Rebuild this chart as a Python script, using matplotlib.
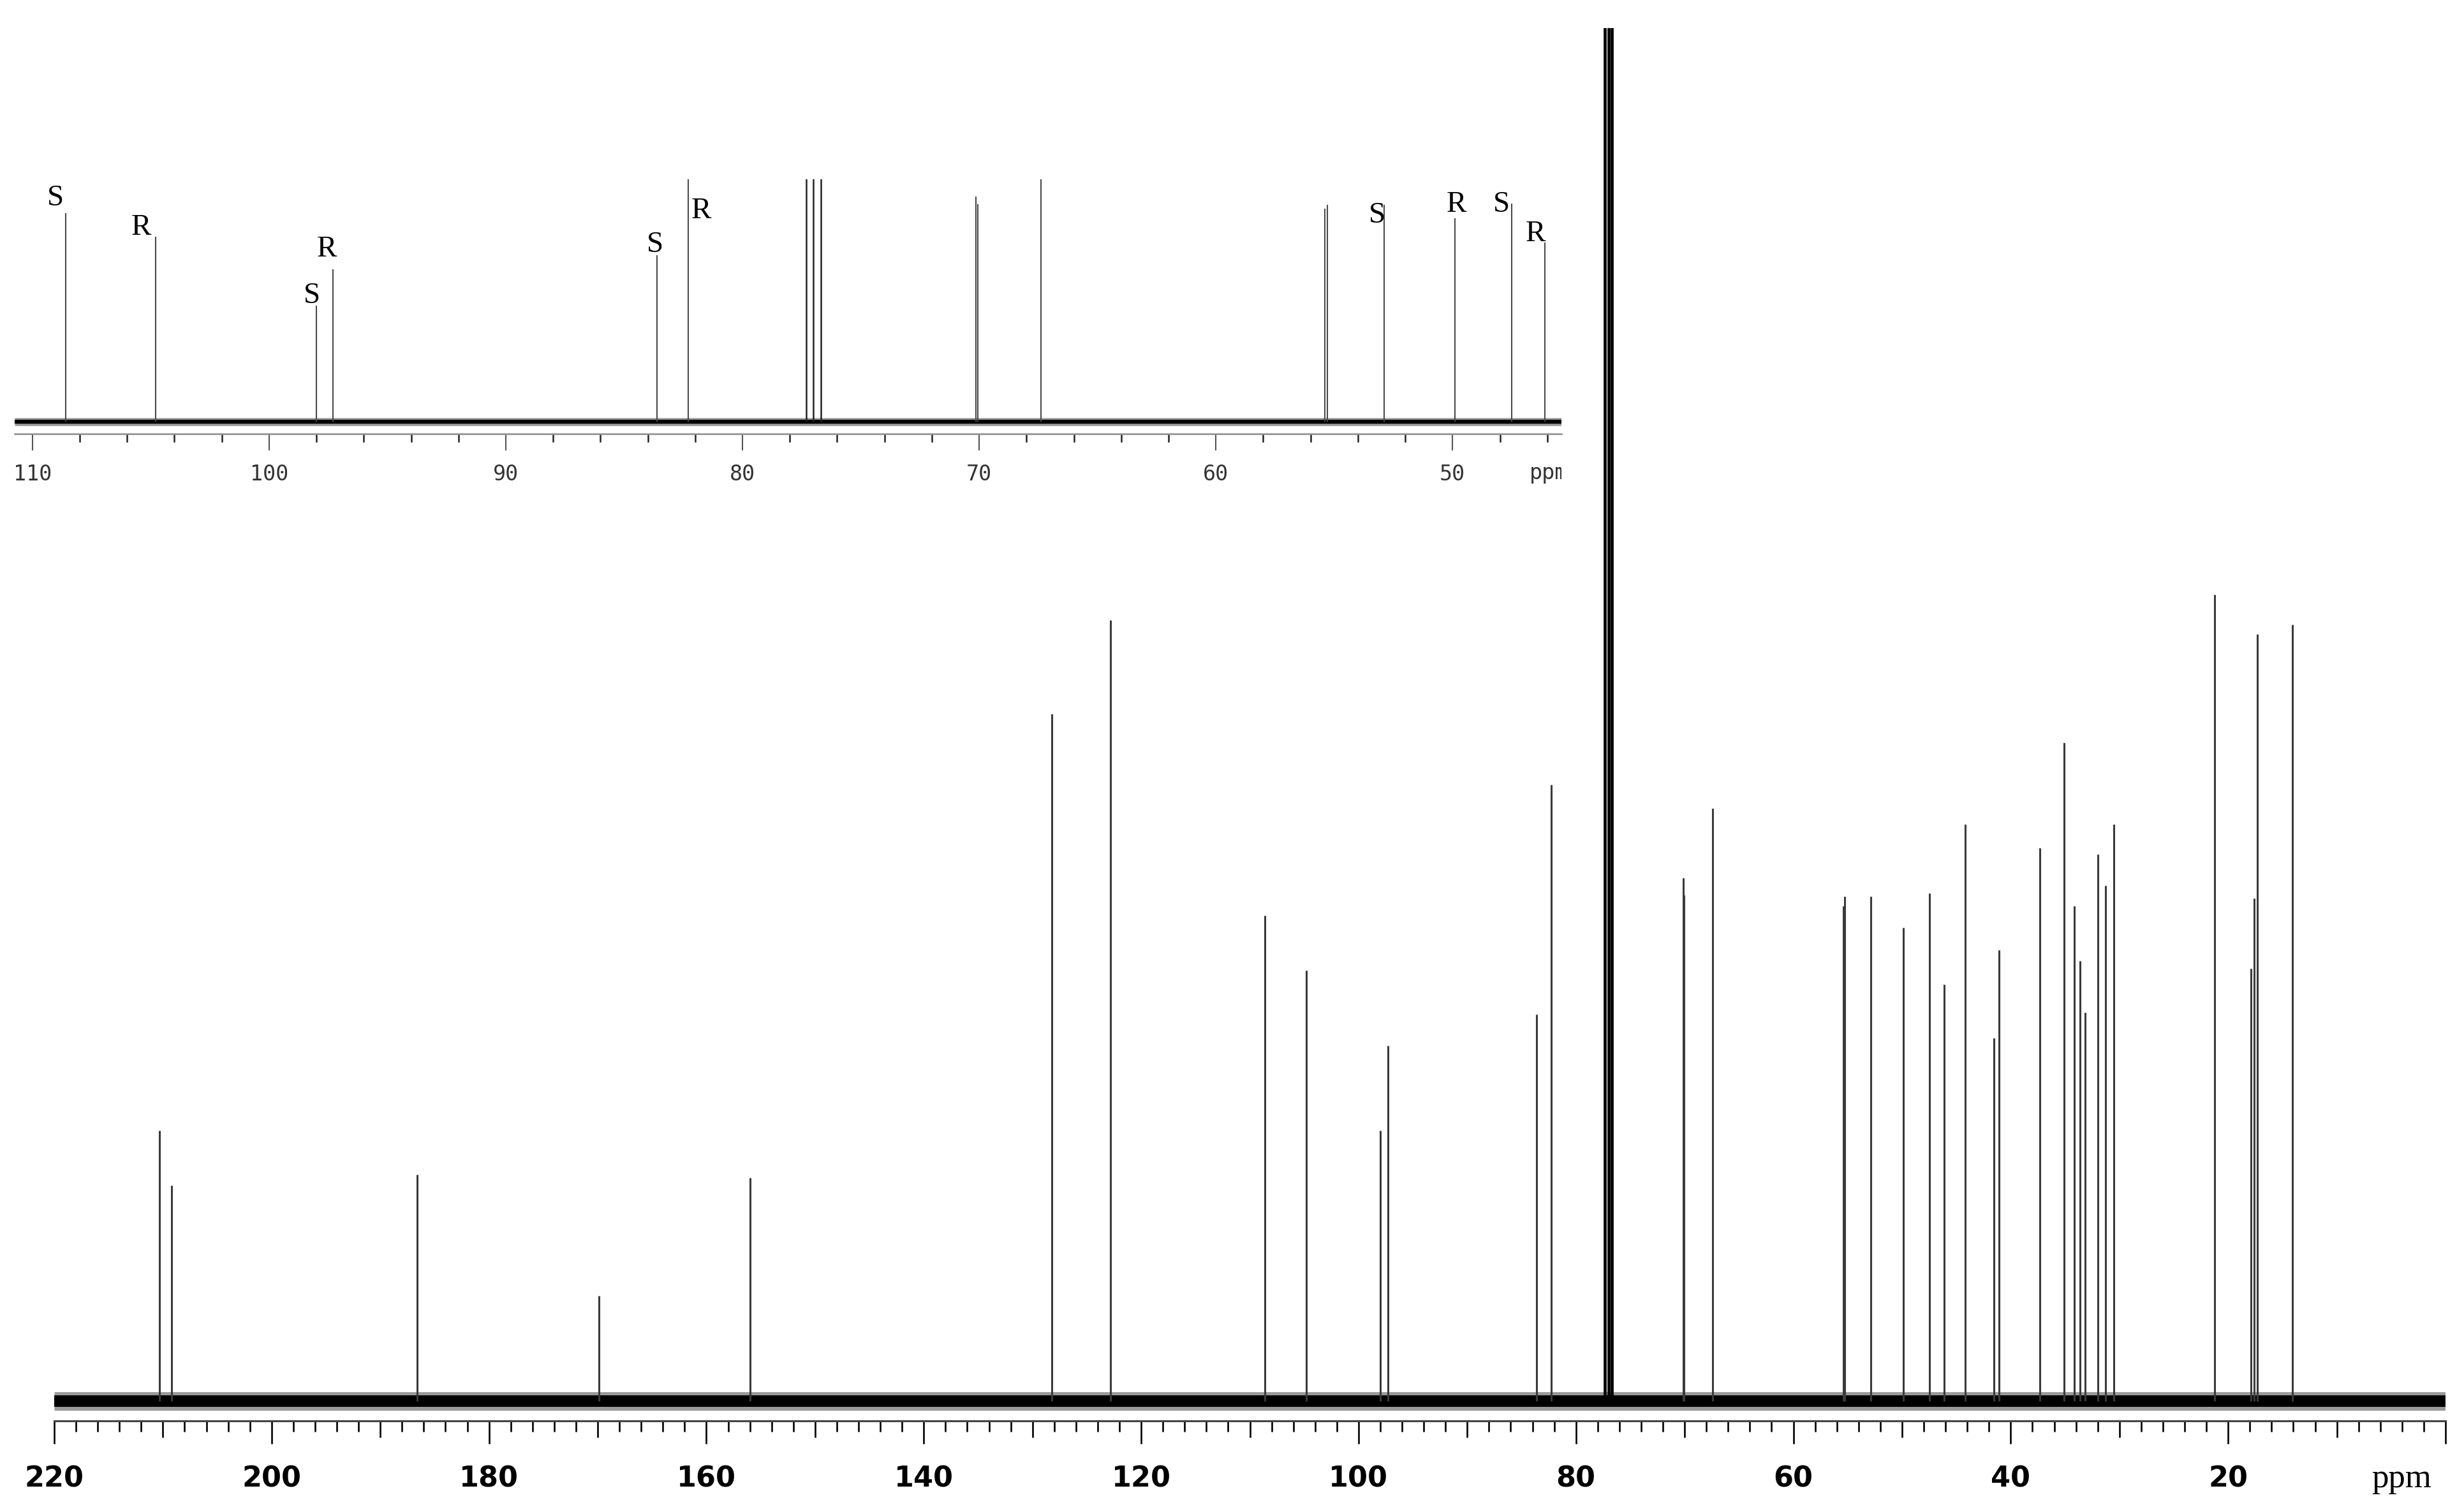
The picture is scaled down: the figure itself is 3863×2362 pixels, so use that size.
import numpy as np
import matplotlib
matplotlib.use("Agg")
import matplotlib.pyplot as plt
from matplotlib.transforms import Bbox, TransformedBbox

# 13C NMR peak list: chemical shift (ppm) and peak height (arbitrary units)
peak_ppm = [210.3, 209.2, 186.6, 169.9, 156.0, 128.2, 122.8, 108.6, 104.8,
            98.0, 97.3, 83.6, 82.3, 70.15, 70.05, 67.4,
            55.4, 55.3, 52.9, 49.9, 47.5, 46.1, 44.2, 41.55, 41.1, 37.3,
            35.1, 34.15, 33.6, 33.15, 32.0, 31.25, 30.5, 21.25, 17.9, 17.6,
            17.3, 14.1]
peak_height = [172, 137, 144, 67, 142, 437, 497, 309, 274,
               172, 226, 246, 392, 333, 322, 377,
               315, 321, 321, 301, 323, 265, 367, 231, 287, 352,
               419, 315, 280, 247, 348, 328, 367, 513, 275, 320,
               488, 494]

# CDCl3 solvent triplet (off scale)
solvent_ppm = [77.32, 77.0, 76.68]
solvent_height = [1500, 1500, 1500]

# R / S assignments shown in the expanded region
label_text = ["S", "R", "S", "R", "S", "R", "S", "R", "S", "R"]
label_ppm = [109.03, 105.39, 98.19, 97.57, 83.69, 81.74, 53.18, 49.83, 47.93, 46.48]
label_height = [331, 287, 186, 255, 262, 312, 305, 321, 321, 278]

main_ticks = list(range(0, 221, 10))
main_ticklabels = [str(t) if t % 20 == 0 and t > 0 else "" for t in main_ticks]
inset_ticks = [110, 100, 90, 80, 70, 60, 50]
inset_ticklabels = [str(t) for t in inset_ticks]

W, H = 3863, 2362
fig = plt.figure(figsize=(W / 100, H / 100), dpi=100)

# ---- main spectrum ----
ax = fig.add_axes([85 / W, 135 / H, (3834 - 85) / W, (2227 - 44) / H])
ax.set_xlim(220, 0)
ax.set_ylim(-12.6, 873.5)
ax.hlines(0, 0, 220, color="#9a9a9a", lw=21, zorder=1)
ax.hlines(0, 0, 220, color="black", lw=13, zorder=2)
ax.vlines(peak_ppm, 0, peak_height, color="#3a3a3a", lw=2.2, zorder=3)
ax.vlines(solvent_ppm, 0, solvent_height, color="black", lw=3.4, zorder=3)

for s in ["left", "right", "top"]:
    ax.spines[s].set_visible(False)
ax.spines["bottom"].set_color("#444444")
ax.spines["bottom"].set_linewidth(2.2)
ax.set_yticks([])
ax.set_xticks(main_ticks)
ax.set_xticklabels(main_ticklabels, fontsize=32, fontweight="bold",
                   fontfamily="DejaVu Sans")
ax.set_xticks(np.arange(0, 221, 2), minor=True)
ax.tick_params(axis="x", which="major", length=25.9, width=1.9, pad=24,
               color="black")
ax.tick_params(axis="x", which="minor", length=12.2, width=1.9, color="black")
for t, tick in zip(main_ticks, ax.xaxis.get_major_ticks()):
    if t % 20 != 0:
        tick.tick1line.set_markersize(18.7)

fig.text(3812 / W, (H - 2331) / H, "ppm", ha="right", va="baseline",
         fontsize=38, fontfamily="Liberation Serif")

# ---- expanded region inset ----
ax2 = fig.add_axes([23 / W, (H - 680) / H, (2448 - 23) / W, (680 - 281) / H])
ax2.patch.set_alpha(0)
ax2.set_xlim(110.75, 45.4)
ax2.set_ylim(-17.9, 358.7)
ax2.hlines(0, 45.4, 110.75, color="#9a9a9a", lw=9, zorder=1)
ax2.hlines(0, 45.4, 110.75, color="black", lw=4.5, zorder=2)
ax2.vlines(peak_ppm, 0, peak_height, color="#4a4a4a", lw=1.5, zorder=3)
ax2.vlines(solvent_ppm, 0, solvent_height, color="#222222", lw=1.8, zorder=3)

for s in ["left", "right", "top"]:
    ax2.spines[s].set_visible(False)
ax2.spines["bottom"].set_color("#8c8c8c")
ax2.spines["bottom"].set_linewidth(1.8)
ax2.set_yticks([])
ax2.set_xticks(inset_ticks)
ax2.set_xticklabels(inset_ticklabels, fontsize=24, fontfamily="DejaVu Sans Mono",
                    color="#333333")
ax2.set_xticks(np.arange(46, 111, 2), minor=True)
ax2.tick_params(axis="x", which="major", length=18.7, width=1.5, pad=15,
                color="#555555")
ax2.tick_params(axis="x", which="minor", length=9.4, width=1.8, color="#222222")

for txt, x, y in zip(label_text, label_ppm, label_height):
    ax2.text(x, y, txt, ha="center", va="center", fontsize=34,
             fontfamily="Liberation Serif", color="black")

pp = fig.text(2398 / W, (H - 751) / H, "ppm", ha="left", va="baseline",
              fontsize=24, fontfamily="DejaVu Sans Mono", color="#333333")
pp.set_clip_box(TransformedBbox(Bbox([[0, 0], [2448 / W, 1]]), fig.transFigure))
pp.set_clip_on(True)

fig.savefig("out.png", dpi=100, facecolor="white")
